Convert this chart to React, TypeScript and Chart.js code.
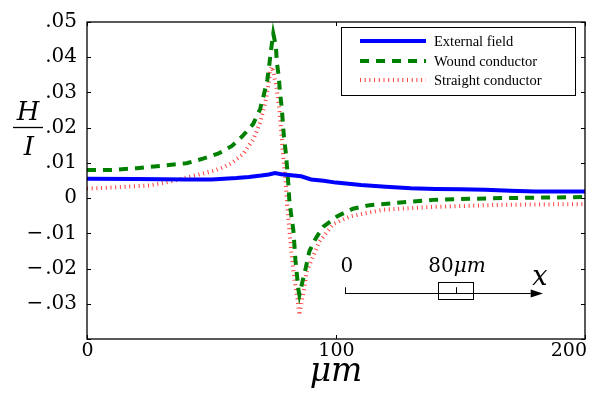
import React, { useEffect, useRef } from "react";
import { Chart, registerables } from "chart.js";
Chart.register(...registerables);

// ---------------- data ----------------
const blueX = [0, 20, 40, 50, 55, 60, 65, 70, 73, 75.5, 78, 82, 86, 90, 95, 100, 110, 120, 130, 140, 150, 160, 170, 180, 190, 200];
const blueY = [0.0055, 0.0054, 0.0053, 0.0053, 0.0055, 0.0057, 0.006, 0.0064, 0.0067, 0.0071, 0.0068, 0.0065, 0.0062, 0.0053, 0.0049, 0.0044, 0.0037, 0.0032, 0.0028, 0.0026, 0.0025, 0.0024, 0.0021, 0.0019, 0.0019, 0.0019];

const greenX = [0, 10, 20, 30, 40, 46.6, 52.6, 58.2, 62.7, 66.7, 69.5, 71, 72.4, 73.2, 73.9, 74.8, 75.9, 76.2, 77, 77.5, 78.2, 79.1, 79.9, 80.4, 80.9, 81.3, 82, 82.9, 83.7, 84.9, 85.3, 86.5, 87.9, 89.3, 91.8, 94.8, 100.4, 106.8, 113.6, 120.5, 130, 139, 147, 166, 200];
const greenY = [0.008, 0.008, 0.0085, 0.0092, 0.0099, 0.0112, 0.0126, 0.0148, 0.0178, 0.021, 0.0252, 0.0293, 0.0335, 0.0378, 0.042, 0.0467, 0.043, 0.0387, 0.0346, 0.03, 0.0257, 0.0173, 0.0126, 0.0082, 0.0036, -0.001, -0.0047, -0.0093, -0.0175, -0.026, -0.0275, -0.0238, -0.0197, -0.0151, -0.0115, -0.0082, -0.0052, -0.003, -0.002, -0.0016, -0.001, -0.0005, -0.0003, 0.0, 0.0003];

const redX = [0, 10, 20, 25, 30, 37, 45, 51, 55, 58, 62.8, 66.8, 69.5, 71.5, 72.8, 73.5, 74.2, 75.1, 76.2, 77.2, 78, 78.8, 79.8, 80.4, 81.3, 82.2, 83.3, 84.5, 85.3, 86.2, 87.2, 88.2, 89.6, 93.2, 98.8, 105.6, 118.9, 139, 166, 200];
const redY = [0.0027, 0.003, 0.0034, 0.0036, 0.0042, 0.0053, 0.0067, 0.0078, 0.0088, 0.0099, 0.0126, 0.0167, 0.0214, 0.0268, 0.0318, 0.0356, 0.0373, 0.035, 0.031, 0.0255, 0.019, 0.0118, 0.0044, -0.0019, -0.0093, -0.0164, -0.023, -0.0285, -0.0332, -0.0295, -0.0257, -0.021, -0.0185, -0.0125, -0.0074, -0.0052, -0.0033, -0.0025, -0.0019, -0.0017];

const seriesLabels = ["External field", "Wound conductor", "Straight conductor"];
const xTickValues = [0, 100, 200];
const xTickLabels = ["0", "100", "200"];
const xTitle = "\u03BCm";
const yTitleTop = "H";
const yTitleBottom = "I";

// inset sketch (data coordinates)
const insetLine = { x0: 103.6, x1: 183.1, y: -0.02684 };
const insetBox = { x0: 141.0, x1: 155.0, y0: -0.02382, y1: -0.02876 };
const insetTickTop = -0.0253;
const insetMid = 148.1;
const insetArrowBase = 178.2;
const insetLabels = [
  { text: "0", x: 104.4, y: -0.0211, italic: false },
  { text: "80", x: 148.6, y: -0.0211, italic: false, suffix: "\u03BCm" },
  { text: "x", x: 181.9, y: -0.0248, italic: true },
];

const toPts = (xs: number[], ys: number[]) => xs.map((x, i) => ({ x, y: ys[i] }));

const fmtY = (v: number) => {
  const r = Math.round(v * 100);
  if (r === 0) return "0";
  if (r <= -4) return "";
  const s = "." + String(Math.abs(r)).padStart(2, "0");
  return r < 0 ? "\u2212\u200A" + s : s;
};

const W = 602;
const H = 394;
const SERIF = "'DejaVu Serif', serif";
const LSERIF = "'Liberation Serif', serif";

const decoPlugin = {
  id: "deco",
  afterDatasetsDraw(chart: any) {
    const ctx: CanvasRenderingContext2D = chart.ctx;
    const { left, right, top, bottom } = chart.chartArea;
    const xs = chart.scales.x;
    const ys = chart.scales.y;
    ctx.save();
    // frame
    ctx.strokeStyle = "#000";
    ctx.lineWidth = 1.3;
    ctx.setLineDash([]);
    ctx.strokeRect(left, top, right - left, bottom - top);
    // inward ticks
    ctx.lineWidth = 1;
    ys.ticks.forEach((t: any) => {
      const py = Math.round(ys.getPixelForValue(t.value)) + 0.5;
      ctx.beginPath();
      ctx.moveTo(left, py); ctx.lineTo(left + 4, py);
      ctx.moveTo(right, py); ctx.lineTo(right - 4, py);
      ctx.stroke();
    });
    ctx.fillStyle = "#000";
    ctx.font = `19px ${SERIF}`;
    ctx.textAlign = "center";
    ctx.textBaseline = "alphabetic";
    xTickValues.forEach((v, i) => {
      const px = Math.round(xs.getPixelForValue(v)) + 0.5;
      ctx.beginPath();
      ctx.moveTo(px, bottom); ctx.lineTo(px, bottom - 4);
      ctx.moveTo(px, top); ctx.lineTo(px, top + 4);
      ctx.stroke();
      const w = ctx.measureText(xTickLabels[i]).width;
      const lx = Math.min(px, W - 15 - w / 2);
      ctx.fillText(xTickLabels[i], lx, bottom + 17);
    });

    // y title fraction
    ctx.font = `italic 26px ${SERIF}`;
    ctx.fillText(yTitleTop, 28, 120);
    ctx.fillText(yTitleBottom, 29, 155);
    ctx.lineWidth = 1.3;
    ctx.beginPath();
    ctx.moveTo(13, 127.5); ctx.lineTo(43, 127.5);
    ctx.stroke();

    // inset sketch
    ctx.lineWidth = 1;
    const ly = Math.round(ys.getPixelForValue(insetLine.y)) + 0.5;
    const lx0 = xs.getPixelForValue(insetLine.x0);
    const lx1 = xs.getPixelForValue(insetLine.x1);
    const tickTop = ys.getPixelForValue(insetTickTop);
    ctx.beginPath();
    ctx.moveTo(lx0, ly); ctx.lineTo(xs.getPixelForValue(insetArrowBase), ly);
    ctx.moveTo(Math.round(lx0) + 0.5, ly); ctx.lineTo(Math.round(lx0) + 0.5, tickTop);
    const mx = Math.round(xs.getPixelForValue(insetMid)) + 0.5;
    ctx.moveTo(mx, ly); ctx.lineTo(mx, tickTop);
    ctx.stroke();
    const bx0 = Math.round(xs.getPixelForValue(insetBox.x0)) + 0.5;
    const bx1 = Math.round(xs.getPixelForValue(insetBox.x1)) + 0.5;
    const by0 = Math.round(ys.getPixelForValue(insetBox.y0)) + 0.5;
    const by1 = Math.round(ys.getPixelForValue(insetBox.y1)) + 0.5;
    ctx.strokeRect(bx0, by0, bx1 - bx0, by1 - by0);
    const ab = xs.getPixelForValue(insetArrowBase);
    ctx.beginPath();
    ctx.moveTo(lx1, ly);
    ctx.lineTo(ab, ly - 4);
    ctx.lineTo(ab, ly + 4);
    ctx.closePath();
    ctx.fill();
    insetLabels.forEach((l) => {
      const px = xs.getPixelForValue(l.x);
      const py = ys.getPixelForValue(l.y);
      if (l.suffix) {
        ctx.font = `20px ${SERIF}`;
        const w1 = ctx.measureText(l.text).width;
        ctx.font = `italic 20px ${SERIF}`;
        const w2 = ctx.measureText(l.suffix).width;
        const sx = px - (w1 + w2) / 2;
        ctx.textAlign = "left";
        ctx.font = `20px ${SERIF}`;
        ctx.fillText(l.text, sx, py);
        ctx.font = `italic 20px ${SERIF}`;
        ctx.fillText(l.suffix, sx + w1, py);
        ctx.textAlign = "center";
      } else {
        ctx.font = `${l.italic ? "italic 27px" : "20px"} ${SERIF}`;
        ctx.fillText(l.text, px, py);
      }
    });

    // legend
    const lgX0 = 341, lgY0 = 27, lgW = 234, lgH = 68;
    ctx.fillStyle = "#fff";
    ctx.fillRect(lgX0, lgY0, lgW, lgH);
    ctx.strokeStyle = "#000";
    ctx.lineWidth = 1;
    ctx.strokeRect(lgX0 + 0.5, lgY0 + 0.5, lgW, lgH);
    const rows = [41, 61, 80];
    chart.data.datasets.forEach((ds: any, i: number) => {
      const y = rows[i];
      ctx.save();
      ctx.strokeStyle = ds.borderColor;
      ctx.lineWidth = ds.borderWidth;
      ctx.setLineDash(ds.borderDash || []);
      ctx.lineCap = "butt";
      ctx.beginPath();
      ctx.moveTo(360, y); ctx.lineTo(426, y);
      ctx.stroke();
      ctx.restore();
      ctx.fillStyle = "#000";
      ctx.font = `14.5px ${LSERIF}`;
      ctx.textAlign = "left";
      ctx.textBaseline = "middle";
      ctx.fillText(ds.label, 434, y + 1);
    });
    ctx.restore();
  },
};

export default function App() {
  const ref = useRef<HTMLCanvasElement>(null);
  useEffect(() => {
    document.body.style.margin = "0";
    const canvas = ref.current!;
    const chart = new Chart(canvas, {
      type: "line",
      data: {
        datasets: [
          {
            label: seriesLabels[0],
            data: toPts(blueX, blueY),
            borderColor: "#0000ff",
            borderWidth: 4,
            pointRadius: 0,
            tension: 0,
          },
          {
            label: seriesLabels[1],
            data: toPts(greenX, greenY),
            borderColor: "#008000",
            borderWidth: 4,
            borderDash: [9, 7],
            pointRadius: 0,
            tension: 0,
          },
          {
            label: seriesLabels[2],
            data: toPts(redX, redY),
            borderColor: "rgba(255,30,30,0.85)",
            borderWidth: 4,
            borderDash: [1, 3.7],
            pointRadius: 0,
            tension: 0,
          },
        ],
      },
      options: {
        animation: false,
        responsive: false,
        devicePixelRatio: 1,
        layout: { padding: { left: 0, right: 17, top: 11, bottom: 0 } },
        plugins: { legend: { display: false }, tooltip: { enabled: false }, title: { display: false } },
        scales: {
          x: {
            type: "linear",
            min: 0,
            max: 200,
            ticks: { display: false, stepSize: 100 },
            grid: { display: false, drawTicks: false },
            border: { display: false },
            title: {
              display: true,
              text: xTitle,
              color: "#000",
              font: { family: SERIF, size: 33, style: "italic" },
              padding: { top: 0, bottom: 2 },
            },
            afterFit: (s: any) => { s.height = 55; },
          },
          y: {
            type: "linear",
            min: -0.04,
            max: 0.05,
            ticks: {
              stepSize: 0.01,
              color: "#000",
              padding: 10,
              font: { family: SERIF, size: 20 },
              callback: (v: any) => fmtY(Number(v)),
            },
            grid: { display: false, drawTicks: false },
            border: { display: false },
            afterFit: (s: any) => { s.width = 87; },
          },
        },
      },
      plugins: [decoPlugin],
    });
    return () => chart.destroy();
  }, []);
  return (
    <div style={{ position: "absolute", left: 0, top: 0, width: W, height: H, background: "#fff" }}>
      <canvas ref={ref} width={W} height={H} style={{ width: W, height: H, display: "block" }} />
    </div>
  );
}
